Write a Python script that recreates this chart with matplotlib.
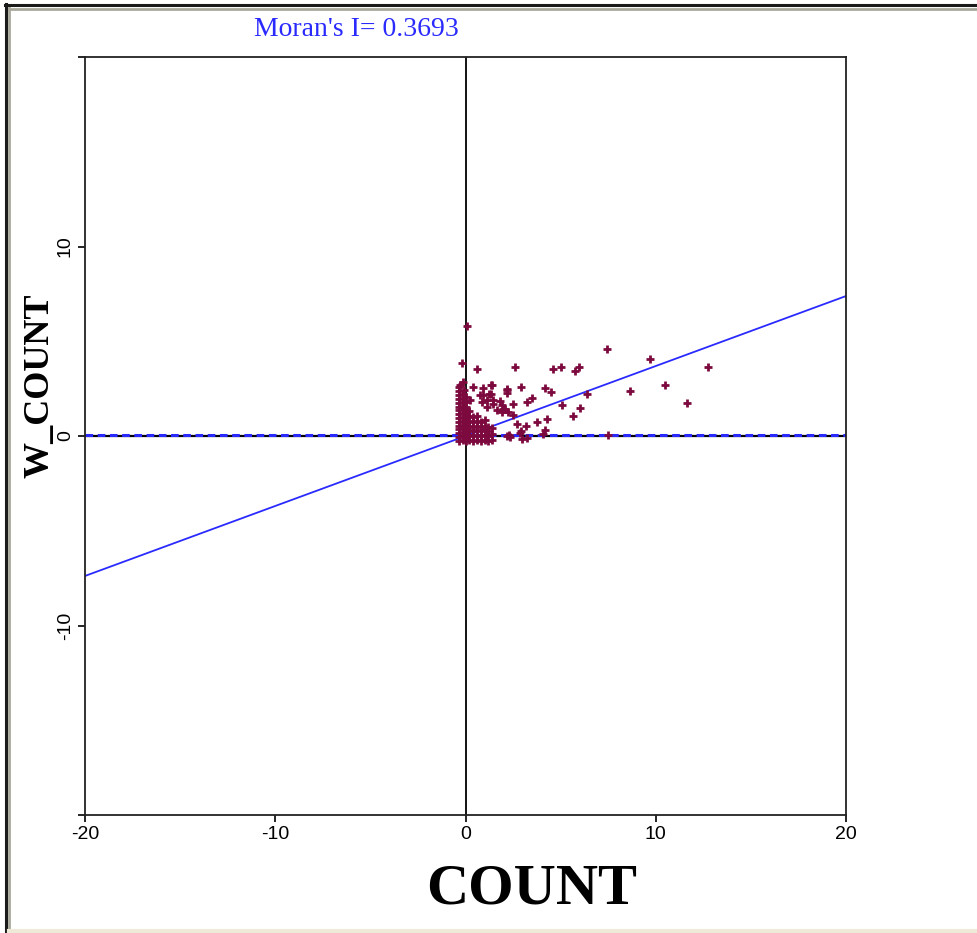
import matplotlib
matplotlib.use("Agg")
import matplotlib.pyplot as plt
from matplotlib.lines import Line2D
import numpy as np

# Moran scatter plot values (standardised COUNT vs spatial lag)
moran_i = 0.3693
x_ticks = [-20, -10, 0, 10, 20]
y_ticks = [-20, -10, 0, 10, 20]
y_tick_labels = ["", "-10", "0", "10", ""]

# points outside the dense core
count_outer = [0.06, -0.20, 0.62, 2.62, 4.61, 5.03, 5.78, 5.98, 7.44, 6.41,
               5.05, 6.00, 5.67, 4.28, 3.77, 7.47, 4.19, 4.49, 3.25, 3.48,
               2.93, 3.20, 2.86, 4.18, 2.16, 8.67, 9.68, 10.50, 11.65, 12.73,
               2.20, 2.20, 1.38, 2.51, 1.90, 2.08, 1.64, 1.46, 2.48, 2.72,
               2.90, 2.95, 2.30, 4.09, 3.21, 2.34, 0.41, 0.94, 1.32, -0.29,
               0.94, 1.32, 1.15, 2.25, -0.12, -0.08, 0.76, 1.25, 0.24, 0.85,
               1.11, 1.46, 1.81, 1.99, 2.16, 1.90]
wcount_outer = [5.78, 3.84, 3.55, 3.66, 3.52, 3.64, 3.42, 3.64, 4.60, 2.24,
                1.63, 1.50, 1.06, 0.88, 0.76, 0.03, 2.55, 2.33, 1.80, 2.03,
                2.60, 0.55, 0.18, 0.30, 0.00, 2.38, 4.07, 2.69, 1.72, 3.65,
                2.48, 2.27, 2.69, 1.71, 1.66, 1.45, 1.36, 1.89, 1.10, 0.65,
                0.25, -0.14, 0.04, 0.12, -0.10, -0.05, 2.60, 2.51, 2.69, 2.69,
                2.16, 2.20, 1.89, 1.27, 2.86, 2.42, 2.16, 2.24, 1.89, 1.80,
                1.54, 1.71, 1.86, 1.45, 2.42, 1.27]

# dense core near the origin
count_core = [-0.32] * 15 + [-0.15] * 13 + [0.02] * 12 + [0.2] * 7 + [0.4] * 6 + \
             [0.6] * 6 + [0.8] * 5 + [1.0] * 5 + [1.2] * 4 + [1.4] * 3
wcount_core = [-0.25, -0.05, 0.15, 0.35, 0.55, 0.75, 0.95, 1.15, 1.35, 1.55, 1.75, 1.95, 2.15, 2.35, 2.6,
               -0.2, 0.0, 0.2, 0.4, 0.6, 0.8, 1.0, 1.2, 1.4, 1.6, 1.8, 2.0, 2.2,
               -0.25, -0.05, 0.15, 0.35, 0.55, 0.75, 0.95, 1.15, 1.35, 1.55, 1.8, 2.05,
               -0.2, 0.05, 0.3, 0.55, 0.8, 1.05, 1.3,
               -0.25, 0.0, 0.25, 0.5, 0.75, 1.0,
               -0.2, 0.05, 0.3, 0.55, 0.8, 1.05,
               -0.25, 0.0, 0.25, 0.5, 0.75,
               -0.2, 0.05, 0.3, 0.55, 0.85,
               -0.25, 0.0, 0.25, 0.5,
               -0.2, 0.1, 0.4]

pt_color = "#7d0a3e"
blue = "#2a2aff"

fig = plt.figure(figsize=(9.77, 9.33), dpi=100)
ax = fig.add_axes([85 / 977, 1 - 815 / 933, 761 / 977, 758 / 933])

ax.set_xlim(-20, 20)
ax.set_ylim(-20, 20)

# quadrant lines
ax.axvline(0, color="black", lw=1.3, zorder=1)
ax.axhline(0, color="black", lw=1.6, zorder=1)
ax.axhline(0.06, color=blue, lw=2.2, ls=(0, (2.5, 1.5)), zorder=2)

# regression line with slope = Moran's I
xs = np.array([-20, 20])
ax.plot(xs, moran_i * xs, color=blue, lw=1.3, zorder=2)

ax.scatter(count_core, wcount_core, marker="+", s=34, linewidths=2.0, color=pt_color, zorder=3)
ax.scatter(count_outer, wcount_outer, marker="+", s=34, linewidths=2.0, color=pt_color, zorder=3)

for s in ax.spines.values():
    s.set_linewidth(1.3)
    s.set_color("#222222")

ax.set_xticks(x_ticks)
ax.set_xticklabels([str(v) for v in x_ticks], family="Liberation Sans", fontsize=14)
ax.set_yticks(y_ticks)
ax.set_yticklabels(y_tick_labels, family="Liberation Sans", fontsize=14, rotation=90, va="center")
ax.tick_params(direction="out", length=5, width=1.2, pad=3)

fig.text(356 / 977, 1 - 30 / 933, "Moran's I= " + str(moran_i), color=blue,
         family="Liberation Serif", fontsize=20, ha="center", va="center")
fig.text(532 / 977, 1 - 889 / 933, "COUNT", family="Liberation Serif", weight="bold",
         fontsize=42, ha="center", va="center")
fig.text(40 / 977, 1 - 386 / 933, "W_COUNT", family="Liberation Serif", weight="bold",
         fontsize=26, ha="center", va="center", rotation=90)

# window frame
fig.add_artist(Line2D([6 / 977, 6 / 977], [0, 1 - 4 / 933], color="#1a1a1a", lw=2.2, transform=fig.transFigure))
fig.add_artist(Line2D([9 / 977, 9 / 977], [0, 1 - 8 / 933], color="#a8a89c", lw=2.0, transform=fig.transFigure))
fig.add_artist(Line2D([5 / 977, 1], [1 - 5 / 933, 1 - 5 / 933], color="#1a1a1a", lw=2.2, transform=fig.transFigure))
fig.add_artist(Line2D([9 / 977, 1], [1 - 9 / 933, 1 - 9 / 933], color="#a8a89c", lw=2.0, transform=fig.transFigure))
fig.add_artist(Line2D([9 / 977, 1], [2 / 933, 2 / 933], color="#efe9d8", lw=3, transform=fig.transFigure))

fig.savefig("out.png", dpi=100)
